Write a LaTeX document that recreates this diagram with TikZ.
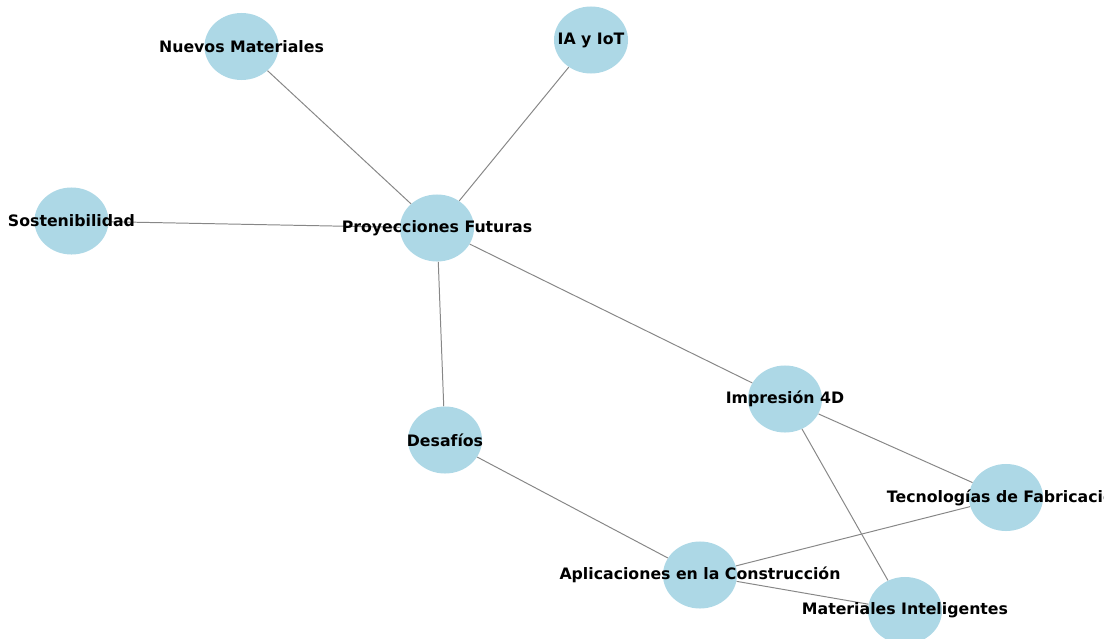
\documentclass[tikz,border=0pt]{standalone}
\usepackage{fontspec}
\setmainfont{DejaVu Sans}
\usetikzlibrary{shapes.geometric}
\definecolor{nodeblue}{RGB}{173,216,230}
\definecolor{edgegray}{RGB}{135,135,135}

\begin{document}
\begin{tikzpicture}[x=0.025cm,y=-0.025cm,
    bubble/.style={ellipse,fill=nodeblue,minimum width=1.85cm,minimum height=1.675cm,inner sep=0pt},
    lbl/.style={font=\fontsize{11.2}{13}\selectfont\bfseries,inner sep=0pt},
    link/.style={draw=edgegray,line width=0.7pt}]
    % frame
    \useasboundingbox (0,0) rectangle (1104,638);
    \clip (0,0) rectangle (1104,638);
    % nodes
    \node[bubble] (nm) at (241.5,46.5) {};
    \node[bubble] (ia) at (591,40) {};
    \node[bubble] (sost) at (71.5,221) {};
    \node[bubble] (pf) at (437,228) {};
    \node[bubble] (des) at (445,440) {};
    \node[bubble] (imp) at (785,399) {};
    \node[bubble] (tec) at (1006,497.5) {};
    \node[bubble] (apl) at (700,575) {};
    \node[bubble] (mi) at (905,610.5) {};
    % edges
    \draw[link] (pf) -- (nm);
    \draw[link] (pf) -- (ia);
    \draw[link] (pf) -- (sost);
    \draw[link] (pf) -- (des);
    \draw[link] (pf) -- (imp);
    \draw[link] (des) -- (apl);
    \draw[link] (imp) -- (tec);
    \draw[link] (imp) -- (mi);
    \draw[link] (apl) -- (tec);
    \draw[link] (apl) -- (mi);
    % labels
    \node[lbl] (nm-l) at (nm) {Nuevos Materiales};
    \node[lbl] (ia-l) at (ia) {IA y IoT};
    \node[lbl] (sost-l) at (sost) {Sostenibilidad};
    \node[lbl] (pf-l) at (pf) {Proyecciones Futuras};
    \node[lbl] (des-l) at (des) {Desafíos};
    \node[lbl] (imp-l) at (imp) {Impresión 4D};
    \node[lbl] (tec-l) at (tec) {Tecnologías de Fabricación};
    \node[lbl] (apl-l) at (apl) {Aplicaciones en la Construcción};
    \node[lbl] (mi-l) at (mi) {Materiales Inteligentes};
\end{tikzpicture}
\end{document}
